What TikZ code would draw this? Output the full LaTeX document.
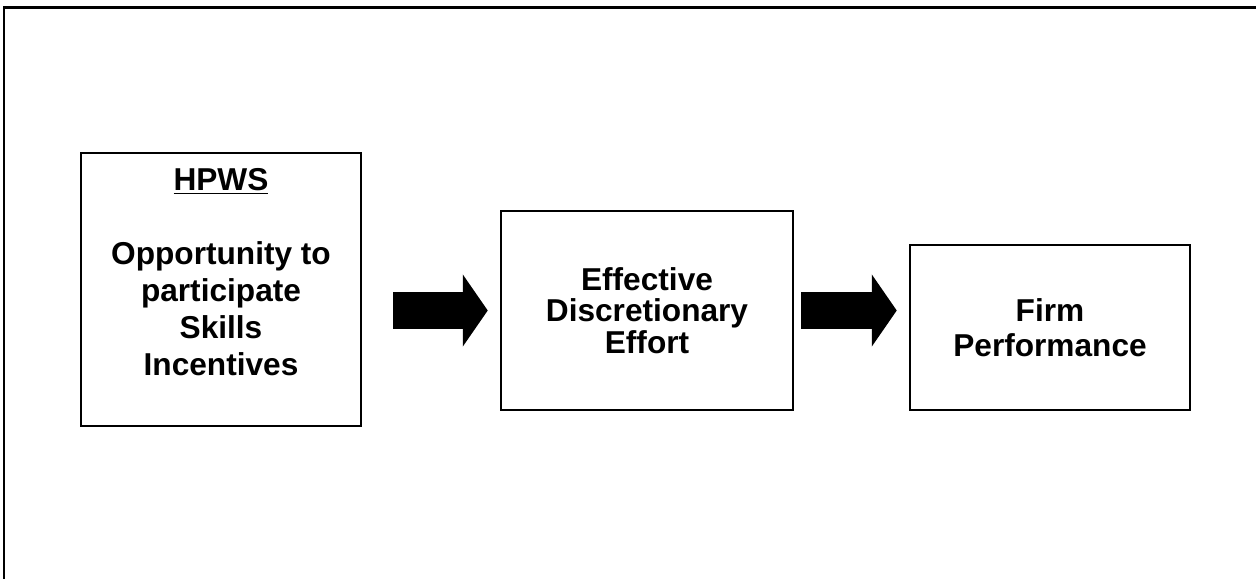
\documentclass[tikz,border=0pt]{standalone}
\usepackage{fontspec}
\setmainfont{Liberation Sans}
\usepackage{tikz}
\usetikzlibrary{arrows.meta}
\tikzset{
	box/.style={
		draw,
		line width=0.05cm,
		inner sep=0pt,
		align=center,
		font=\bfseries\fontsize{18}{20}\selectfont
	},
	boxtext/.style={
		inner sep=0pt,
		align=center,
		font=\bfseries\fontsize{18}{21}\selectfont
	},
	fatarrow/.style={
		line width=0.74cm,
		-{Triangle[length=0.5cm,width=1.42cm]}
	},
	frame/.style={line width=0.05cm}
}

\begin{document}
\begin{tikzpicture}
\useasboundingbox (0,0) rectangle (25.12,-11.58);
\draw[frame] (25.12,-0.15) -- (0.08,-0.15) -- (0.08,-11.58);

\node[box, minimum width=5.6cm, minimum height=5.46cm] (hpws) at (4.42,-5.79) {};
\node[boxtext] (hpwstext) at ([yshift=0.35cm]hpws.center)
	{\underline{HPWS}\\[21pt]Opportunity to\\participate\\Skills\\Incentives};
\node[box, minimum width=5.84cm, minimum height=3.98cm,
	font=\bfseries\fontsize{18}{18}\selectfont] (effort) at (12.94,-6.21)
	{Effective\\Discretionary\\Effort};
\node[box, minimum width=5.6cm, minimum height=3.3cm] (perf) at (21.0,-6.55)
	{Firm\\Performance};

\draw[fatarrow, shorten <=0.62cm, shorten >=0.24cm] (hpws.east |- effort.west) -- (effort.west);
\draw[fatarrow, shorten <=0.14cm, shorten >=0.24cm] (effort.east) -- (effort.east -| perf.west);
\end{tikzpicture}
\end{document}
